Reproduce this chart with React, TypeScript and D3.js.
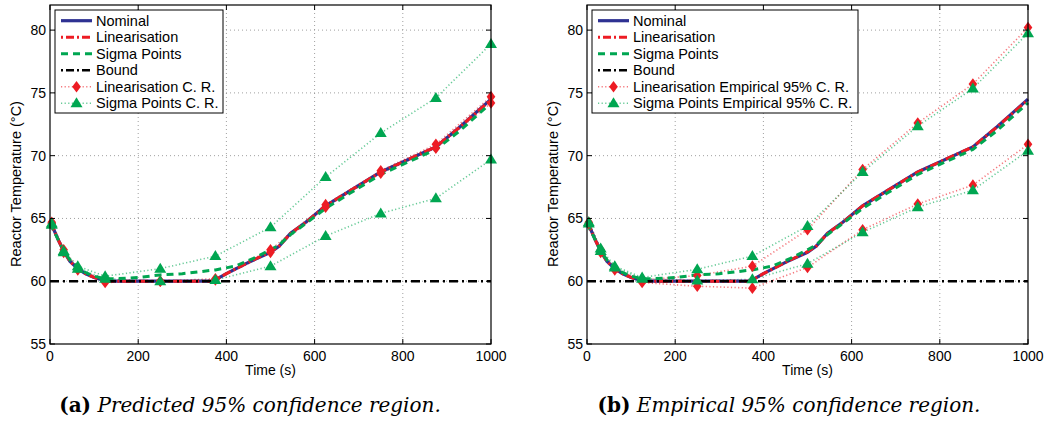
import React from "react";
import * as d3 from "d3";

// time (s) of the confidence-region markers
const markerTimes = [4, 31, 63, 125, 250, 375, 500, 625, 750, 875, 1000];

// nominal trajectory
const nominalTime = [0, 10, 20, 31, 45, 63, 80, 100, 125, 140, 370, 385, 400, 450, 500, 520, 545, 580, 625, 680, 750, 800, 875, 930, 1000];
const nominalTemp = [64.7, 64.0, 63.2, 62.4, 61.6, 61.0, 60.6, 60.3, 60.05, 60.0, 60.0, 60.3, 60.6, 61.5, 62.3, 62.8, 63.8, 64.7, 66.0, 67.2, 68.7, 69.5, 70.7, 72.3, 74.5];
// linearisation mean
const linTemp = [64.7, 64.0, 63.2, 62.4, 61.6, 60.95, 60.6, 60.3, 60.05, 60.0, 60.0, 60.3, 60.6, 61.5, 62.35, 62.8, 63.8, 64.7, 66.0, 67.2, 68.7, 69.5, 70.7, 72.3, 74.45];
// sigma points mean
const sigmaTime = [0, 10, 20, 31, 45, 63, 80, 100, 125, 150, 200, 250, 300, 375, 420, 460, 500, 520, 545, 580, 625, 680, 750, 800, 875, 930, 1000];
const sigmaTemp = [64.6, 63.9, 63.2, 62.4, 61.7, 61.1, 60.7, 60.4, 60.2, 60.2, 60.3, 60.5, 60.6, 60.9, 61.2, 61.8, 62.5, 62.9, 63.7, 64.6, 65.8, 67.0, 68.5, 69.3, 70.5, 72.0, 74.2];
const boundTemp = 60;

// (a) predicted confidence regions
const predLinUpper = [64.7, 62.5, 61.0, 60.05, 60.0, 60.2, 62.5, 66.1, 68.8, 70.9, 74.7];
const predLinLower = [64.6, 62.3, 60.9, 59.9, 60.0, 60.1, 62.3, 65.9, 68.6, 70.6, 74.2];
const predSigmaUpper = [64.6, 62.4, 61.2, 60.4, 61.0, 62.0, 64.3, 68.3, 71.8, 74.6, 78.9];
const predSigmaLower = [64.5, 62.3, 61.0, 60.2, 60.0, 60.1, 61.2, 63.6, 65.4, 66.6, 69.7];

// (b) empirical confidence regions
const empLinUpper = [64.7, 62.5, 61.0, 60.1, 60.45, 61.2, 64.1, 68.9, 72.6, 75.7, 80.2];
const empLinLower = [64.6, 62.3, 60.9, 59.9, 59.6, 59.45, 61.1, 64.1, 66.15, 67.65, 70.9];
const empSigmaUpper = [64.7, 62.6, 61.2, 60.3, 60.95, 62.0, 64.4, 68.7, 72.35, 75.35, 79.75];
const empSigmaLower = [64.6, 62.4, 61.1, 60.2, 60.05, 60.15, 61.4, 63.9, 65.9, 67.25, 70.4];

const xTicks = [0, 200, 400, 600, 800, 1000];
const yTicks = [55, 60, 65, 70, 75, 80];
const legendA = ["Nominal", "Linearisation", "Sigma Points", "Bound", "Linearisation C. R.", "Sigma Points C. R."];
const legendB = ["Nominal", "Linearisation", "Sigma Points", "Bound", "Linearisation Empirical 95% C. R.", "Sigma Points Empirical 95% C. R."];

const BLUE = "#2e3192";
const RED = "#ed1c24";
const GREEN = "#00a651";
const FONT = "'Liberation Sans', Arial, Helvetica, sans-serif";

type PanelProps = {
  left: number;
  legend: string[];
  legendWidth: number;
  linUpper: number[];
  linLower: number[];
  sigUpper: number[];
  sigLower: number[];
  ylabelX: number;
};

function diamond(x: number, y: number) {
  return `M${x},${y - 5.8}L${x + 4.3},${y}L${x},${y + 5.8}L${x - 4.3},${y}Z`;
}
function triangle(x: number, y: number) {
  return `M${x},${y - 6}L${x + 6},${y + 4}L${x - 6},${y + 4}Z`;
}

function Panel({ left, legend, legendWidth, linUpper, linLower, sigUpper, sigLower, ylabelX }: PanelProps) {
  const x = d3.scaleLinear().domain([0, 1000]).range([left, left + 441]);
  const y = d3.scaleLinear().domain([55, 82]).range([344, 5]);
  const top = y(82);
  const bottom = y(55);
  const right = x(1000);

  const line = (ts: number[], vs: number[]) =>
    d3.line<number>().x((_, i) => x(ts[i])).y((v) => y(v))(vs) || "";

  const crLines = [
    { vals: linUpper, color: RED },
    { vals: linLower, color: RED },
    { vals: sigUpper, color: GREEN },
    { vals: sigLower, color: GREEN },
  ];

  const lx = left + 5;
  const ly = 10;
  const rows = [20.7, 37.2, 53.7, 70.2, 86.7, 103.2];

  return (
    <g>
      {/* grid */}
      {xTicks.slice(1, -1).map((t) => (
        <line key={"gx" + t} x1={x(t)} x2={x(t)} y1={top} y2={bottom} stroke="#888" strokeWidth={0.8} strokeDasharray="1,3" />
      ))}
      {yTicks.slice(1).map((t) => (
        <line key={"gy" + t} x1={left} x2={right} y1={y(t)} y2={y(t)} stroke="#888" strokeWidth={0.8} strokeDasharray="1,3" />
      ))}

      {/* confidence region dotted lines */}
      {crLines.map((c, i) => (
        <path key={"cr" + i} d={line(markerTimes, c.vals)} fill="none" stroke={c.color} strokeOpacity={0.6} strokeWidth={1.6} strokeDasharray="1.2,2.4" />
      ))}

      {/* means */}
      <path d={line(nominalTime, nominalTemp)} fill="none" stroke={BLUE} strokeWidth={3.2} />
      <path d={line(nominalTime, linTemp)} fill="none" stroke={RED} strokeWidth={3} strokeDasharray="9,3,2,3" />
      <path d={line(sigmaTime, sigmaTemp)} fill="none" stroke={GREEN} strokeWidth={3} strokeDasharray="7,5" />
      <line x1={left} x2={right} y1={y(boundTemp)} y2={y(boundTemp)} stroke="#000" strokeWidth={2.6} strokeDasharray="9,4,2,4" />

      {/* markers */}
      {[linUpper, linLower].map((vals, k) =>
        vals.map((v, i) => <path key={"d" + k + i} d={diamond(x(markerTimes[i]), y(v))} fill={RED} />)
      )}
      {[sigUpper, sigLower].map((vals, k) =>
        vals.map((v, i) => <path key={"t" + k + i} d={triangle(x(markerTimes[i]), y(v))} fill={GREEN} />)
      )}

      {/* frame + ticks */}
      <rect x={left} y={top} width={right - left} height={bottom - top} fill="none" stroke="#000" strokeWidth={1.2} />
      {xTicks.map((t) => (
        <g key={"tx" + t}>
          <line x1={x(t)} x2={x(t)} y1={bottom} y2={bottom - 5} stroke="#000" />
          <line x1={x(t)} x2={x(t)} y1={top} y2={top + 5} stroke="#000" />
          <text x={x(t)} y={361} textAnchor="middle" fontSize={14} fontFamily={FONT}>{t}</text>
        </g>
      ))}
      {yTicks.map((t) => (
        <g key={"ty" + t}>
          <line x1={left} x2={left + 5} y1={y(t)} y2={y(t)} stroke="#000" />
          <line x1={right} x2={right - 5} y1={y(t)} y2={y(t)} stroke="#000" />
          <text x={left - 4} y={y(t) + 5} textAnchor="end" fontSize={14} fontFamily={FONT}>{t}</text>
        </g>
      ))}
      <text x={(left + right) / 2} y={375} textAnchor="middle" fontSize={14} fontFamily={FONT}>Time (s)</text>
      <text transform={`translate(${ylabelX},${184}) rotate(-90)`} textAnchor="middle" fontSize={14.5} fontFamily={FONT}>
        Reactor Temperature (°C)
      </text>

      {/* legend */}
      <rect x={lx} y={ly} width={legendWidth} height={103} fill="#fff" stroke="#000" strokeWidth={1} />
      {legend.map((label, i) => {
        const cy = rows[i];
        const x0 = lx + 6;
        const x1 = lx + 37;
        const mid = (x0 + x1) / 2;
        let sample: React.ReactNode = null;
        if (i === 0) sample = <line x1={x0} x2={x1} y1={cy} y2={cy} stroke={BLUE} strokeWidth={3.2} />;
        if (i === 1) sample = <line x1={x0} x2={x1} y1={cy} y2={cy} stroke={RED} strokeWidth={3} strokeDasharray="2,3,8,3" />;
        if (i === 2) sample = <line x1={x0} x2={x1} y1={cy} y2={cy} stroke={GREEN} strokeWidth={3} strokeDasharray="7,5" />;
        if (i === 3) sample = <line x1={x0} x2={x1} y1={cy} y2={cy} stroke="#000" strokeWidth={2.6} strokeDasharray="2,3,8,3" />;
        if (i === 4)
          sample = (
            <g>
              <line x1={x0} x2={x1} y1={cy} y2={cy} stroke={RED} strokeOpacity={0.6} strokeWidth={1.6} strokeDasharray="1.2,2.4" />
              <path d={diamond(mid, cy)} fill={RED} />
            </g>
          );
        if (i === 5)
          sample = (
            <g>
              <line x1={x0} x2={x1} y1={cy} y2={cy} stroke={GREEN} strokeOpacity={0.6} strokeWidth={1.6} strokeDasharray="1.2,2.4" />
              <path d={triangle(mid, cy)} fill={GREEN} />
            </g>
          );
        return (
          <g key={"lg" + i}>
            {sample}
            <text x={x1 + 4} y={cy + 5} fontSize={14.5} fontFamily={FONT}>{label}</text>
          </g>
        );
      })}
    </g>
  );
}

export default function App() {
  return (
    <svg width={1051} height={424} style={{ position: "absolute", left: 0, top: 0, background: "#fff" }}>
      <rect width={1051} height={424} fill="#fff" />
      <Panel left={50} legend={legendA} legendWidth={168} linUpper={predLinUpper} linLower={predLinLower} sigUpper={predSigmaUpper} sigLower={predSigmaLower} ylabelX={21} />
      <Panel left={587} legend={legendB} legendWidth={266} linUpper={empLinUpper} linLower={empLinLower} sigUpper={empSigmaUpper} sigLower={empSigmaLower} ylabelX={558} />
      <text x={250} y={412} textAnchor="middle" fontSize={20} fontFamily="'DejaVu Serif', serif">
        <tspan fontWeight="bold">(a)</tspan>
        <tspan fontStyle="italic"> Predicted 95% confidence region.</tspan>
      </text>
      <text x={789} y={412} textAnchor="middle" fontSize={20} fontFamily="'DejaVu Serif', serif">
        <tspan fontWeight="bold">(b)</tspan>
        <tspan fontStyle="italic"> Empirical 95% confidence region.</tspan>
      </text>
    </svg>
  );
}
